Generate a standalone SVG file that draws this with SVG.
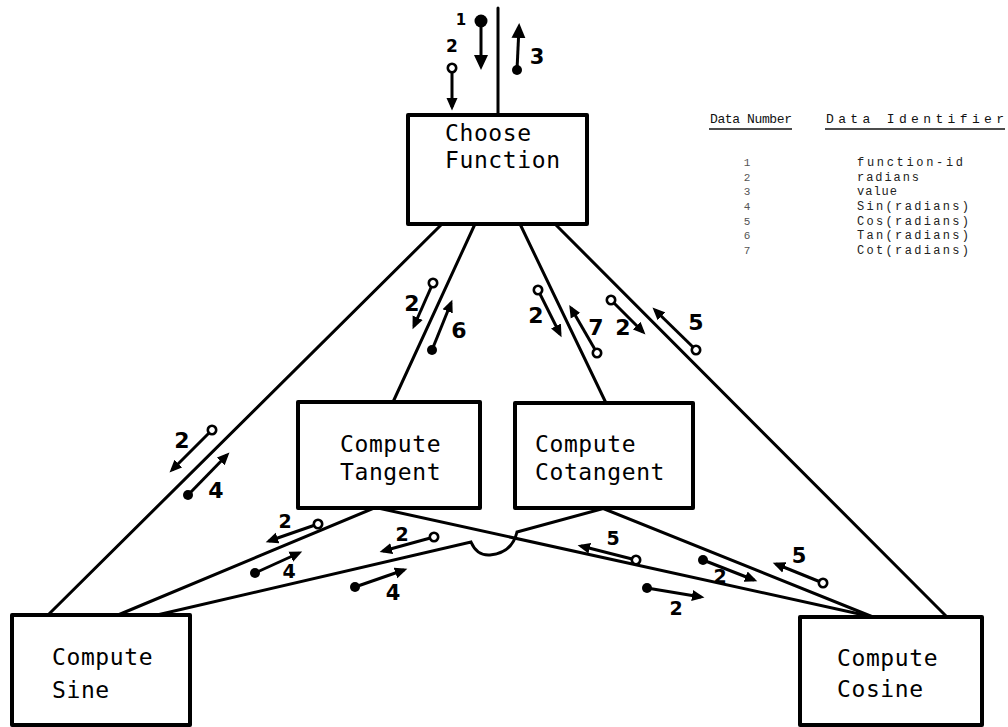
<svg xmlns="http://www.w3.org/2000/svg" width="1008" height="727" viewBox="0 0 1008 727">
  <style>
    .box { fill: #fff; stroke: #000; stroke-width: 4; stroke-linejoin: round; }
    .name { font-family: "DejaVu Sans Mono", "Liberation Mono", monospace; font-size: 23px; letter-spacing: 0.6px; fill: #000; }
    .wire { fill: none; stroke: #000; stroke-width: 3; stroke-linecap: round; }
    .flow { fill: none; stroke: #000; stroke-width: 3; stroke-linecap: butt; }
    .in { marker-start: url(#ring); marker-end: url(#head); }
    .out { marker-start: url(#dot); marker-end: url(#head); }
    .num { font-family: "DejaVu Sans", "Liberation Sans", sans-serif; font-weight: bold; font-size: 22px; text-anchor: middle; dominant-baseline: central; fill: #000; }
    .leg { font-family: "Liberation Mono", "DejaVu Sans Mono", monospace; font-size: 12px; fill: #222; }
    .legh { font-family: "Liberation Mono", "DejaVu Sans Mono", monospace; font-size: 13px; fill: #111; }
    .legn { font-family: "Liberation Mono", "DejaVu Sans Mono", monospace; font-size: 11px; fill: #555; text-anchor: middle; }
  </style>
  <defs>
    <marker id="head" viewBox="0 -6 13 12" refX="9" refY="0" markerWidth="13" markerHeight="12" markerUnits="userSpaceOnUse" orient="auto">
      <path d="M0,-5.5 L12.5,0 L0,5.5 Z" fill="#000"/>
    </marker>
    <marker id="headL" viewBox="0 -8 16 16" refX="11" refY="0" markerWidth="16" markerHeight="16" markerUnits="userSpaceOnUse" orient="auto">
      <path d="M0,-7 L15,0 L0,7 Z" fill="#000"/>
    </marker>
    <marker id="ring" viewBox="-7 -7 14 14" refX="0" refY="0" markerWidth="14" markerHeight="14" markerUnits="userSpaceOnUse">
      <circle r="4.2" fill="#fff" stroke="#000" stroke-width="2.6"/>
    </marker>
    <marker id="dot" viewBox="-7 -7 14 14" refX="0" refY="0" markerWidth="14" markerHeight="14" markerUnits="userSpaceOnUse">
      <circle r="5" fill="#000"/>
    </marker>
    <marker id="dotL" viewBox="-8 -8 16 16" refX="0" refY="0" markerWidth="16" markerHeight="16" markerUnits="userSpaceOnUse">
      <circle r="6.5" fill="#000"/>
    </marker>
  </defs>

  <rect width="1008" height="727" fill="#fff"/>

  <!-- connectors between the modules -->
  <g id="connectors">
    <line class="wire" x1="498" y1="8" x2="498" y2="115"/>
    <line class="wire" x1="442" y1="224" x2="48" y2="615"/>
    <line class="wire" x1="475" y1="224" x2="393" y2="402"/>
    <line class="wire" x1="520" y1="224" x2="606" y2="403"/>
    <line class="wire" x1="555" y1="224" x2="947" y2="617"/>
    <line class="wire" x1="374" y1="508" x2="118" y2="615"/>
    <line class="wire" x1="378" y1="508" x2="873" y2="617"/>
    <line class="wire" x1="602" y1="508" x2="873" y2="617"/>
    <!-- cotangent to sine, dipping under the tangent-to-cosine line -->
    <path class="wire" d="M605,508 L517,532 Q512,553 490,555 Q477,556 471,542 L157,615"/>
  </g>

  <!-- data couples -->
  <g id="couples">
    <!-- entry into Choose Function -->
    <line class="flow" x1="481" y1="21" x2="481" y2="66" marker-start="url(#dotL)" marker-end="url(#headL)"/>
    <line class="flow in" x1="452" y1="68" x2="452" y2="107"/>
    <line class="flow" x1="517" y1="70" x2="519" y2="27" marker-start="url(#dot)" marker-end="url(#headL)"/>

    <!-- Choose Function / Compute Tangent -->
    <line class="flow in" x1="433" y1="283" x2="414" y2="326"/>
    <line class="flow out" x1="432" y1="350" x2="451" y2="303"/>
    <!-- Choose Function / Compute Cotangent -->
    <line class="flow in" x1="538" y1="290" x2="560" y2="334"/>
    <line class="flow in" x1="597" y1="353" x2="571" y2="308"/>
    <!-- Choose Function / Compute Cosine -->
    <line class="flow in" x1="611" y1="300" x2="643" y2="332"/>
    <line class="flow in" x1="696" y1="350" x2="655" y2="310"/>
    <!-- Choose Function / Compute Sine -->
    <line class="flow in" x1="212" y1="430" x2="172" y2="470"/>
    <line class="flow out" x1="188" y1="495" x2="227" y2="455"/>

    <!-- Compute Tangent / Compute Sine -->
    <line class="flow in" x1="318" y1="524" x2="269" y2="541"/>
    <line class="flow out" x1="255" y1="573" x2="299" y2="553"/>
    <!-- Compute Cotangent / Compute Sine -->
    <line class="flow in" x1="434" y1="537" x2="383" y2="551"/>
    <line class="flow out" x1="355" y1="587" x2="404" y2="570"/>
    <!-- Compute Tangent / Compute Cosine -->
    <line class="flow in" x1="636" y1="560" x2="581" y2="546"/>
    <line class="flow out" x1="647" y1="588" x2="701" y2="597"/>
    <!-- Compute Cotangent / Compute Cosine -->
    <line class="flow out" x1="703" y1="560" x2="754" y2="580"/>
    <line class="flow in" x1="823" y1="583" x2="776" y2="564"/>
  </g>

  <!-- couple numbers -->
  <g id="couple-numbers">
    <text class="num" x="461" y="20" style="font-size:15px">1</text>
    <text class="num" x="452" y="46" style="font-size:17px">2</text>
    <text class="num" x="537" y="57" style="font-size:21px">3</text>
    <text class="num" x="412" y="303">2</text>
    <text class="num" x="459" y="330">6</text>
    <text class="num" x="536" y="315">2</text>
    <text class="num" x="596" y="327">7</text>
    <text class="num" x="623" y="327">2</text>
    <text class="num" x="696" y="322">5</text>
    <text class="num" x="182" y="440">2</text>
    <text class="num" x="216" y="490">4</text>
    <text class="num" x="285" y="521" style="font-size:19px">2</text>
    <text class="num" x="289" y="571" style="font-size:19px">4</text>
    <text class="num" x="402" y="534" style="font-size:19px">2</text>
    <text class="num" x="393" y="593" style="font-size:21px">4</text>
    <text class="num" x="613" y="538" style="font-size:19px">5</text>
    <text class="num" x="676" y="608" style="font-size:19px">2</text>
    <text class="num" x="720" y="576" style="font-size:19px">2</text>
    <text class="num" x="799" y="556" style="font-size:21px">5</text>
  </g>

  <!-- modules -->
  <g id="choose-function">
    <rect class="box" x="408" y="115" width="179" height="109"/>
    <text class="name" x="445" y="141">Choose</text>
    <text class="name" x="445" y="168">Function</text>
  </g>
  <g id="compute-tangent">
    <rect class="box" x="298" y="402" width="182" height="106"/>
    <text class="name" x="340" y="452">Compute</text>
    <text class="name" x="340" y="480">Tangent</text>
  </g>
  <g id="compute-cotangent">
    <rect class="box" x="515" y="403" width="178" height="105"/>
    <text class="name" x="535" y="452">Compute</text>
    <text class="name" x="535" y="480">Cotangent</text>
  </g>
  <g id="compute-sine">
    <rect class="box" x="12" y="615" width="178" height="110"/>
    <text class="name" x="52" y="665">Compute</text>
    <text class="name" x="52" y="698">Sine</text>
  </g>
  <g id="compute-cosine">
    <rect class="box" x="800" y="617" width="182" height="108"/>
    <text class="name" x="837" y="666">Compute</text>
    <text class="name" x="837" y="697">Cosine</text>
  </g>

  <!-- data dictionary -->
  <g id="legend">
    <text class="legh" x="710" y="123" textLength="82" lengthAdjust="spacing">Data Number</text>
    <text class="legh" x="826" y="123" textLength="178" lengthAdjust="spacing">Data Identifier</text>
    <line x1="709" y1="129" x2="792" y2="129" stroke="#111" stroke-width="1.5"/>
    <line x1="825" y1="129" x2="1005" y2="129" stroke="#111" stroke-width="1.5"/>
    <text class="legn" x="747" y="166">1</text>
    <text class="legn" x="747" y="181">2</text>
    <text class="legn" x="747" y="195">3</text>
    <text class="legn" x="747" y="210">4</text>
    <text class="legn" x="747" y="225">5</text>
    <text class="legn" x="747" y="239">6</text>
    <text class="legn" x="747" y="254">7</text>
    <text class="leg" x="857" y="166" textLength="106" lengthAdjust="spacing">function-id</text>
    <text class="leg" x="857" y="181" textLength="62" lengthAdjust="spacing">radians</text>
    <text class="leg" x="857" y="195" textLength="40" lengthAdjust="spacing">value</text>
    <text class="leg" x="857" y="210" textLength="112" lengthAdjust="spacing">Sin(radians)</text>
    <text class="leg" x="857" y="225" textLength="112" lengthAdjust="spacing">Cos(radians)</text>
    <text class="leg" x="857" y="239" textLength="112" lengthAdjust="spacing">Tan(radians)</text>
    <text class="leg" x="857" y="254" textLength="112" lengthAdjust="spacing">Cot(radians)</text>
  </g>
</svg>
